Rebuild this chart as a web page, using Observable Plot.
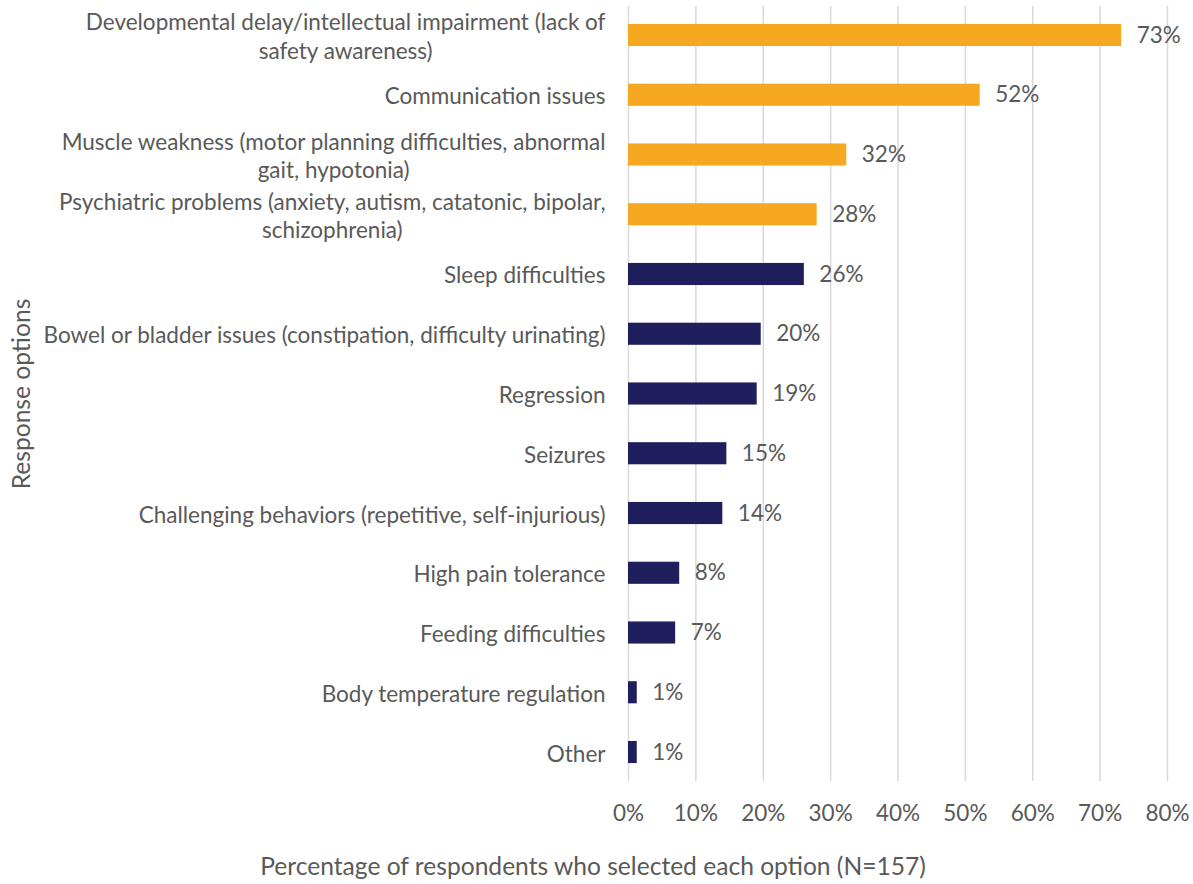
<!DOCTYPE html>
<html>
<head>
<meta charset="utf-8">
<script src="https://cdn.jsdelivr.net/npm/d3@7"></script>
<script src="https://cdn.jsdelivr.net/npm/@observablehq/plot@0.6"></script>
<style>
  html, body { margin: 0; padding: 0; background: #fff; }
  #chart svg { display: block; }
</style>
</head>
<body>
<div id="chart"></div>
<script>
// Response categories, top to bottom
const categories = [
  "Developmental delay/intellectual impairment (lack of safety awareness)",
  "Communication issues",
  "Muscle weakness (motor planning difficulties, abnormal gait, hypotonia)",
  "Psychiatric problems (anxiety, autism, catatonic, bipolar, schizophrenia)",
  "Sleep difficulties",
  "Bowel or bladder issues (constipation, difficulty urinating)",
  "Regression",
  "Seizures",
  "Challenging behaviors (repetitive, self-injurious)",
  "High pain tolerance",
  "Feeding difficulties",
  "Body temperature regulation",
  "Other"
];
// Displayed (wrapped) category labels
const displayLabels = [
  "Developmental delay/intellectual impairment (lack of\nsafety awareness)",
  "Communication issues",
  "Muscle weakness (motor planning difficulties, abnormal\ngait, hypotonia)",
  "Psychiatric problems (anxiety, autism, catatonic, bipolar,\nschizophrenia)",
  "Sleep difficulties",
  "Bowel or bladder issues (constipation, difficulty urinating)",
  "Regression",
  "Seizures",
  "Challenging behaviors (repetitive, self-injurious)",
  "High pain tolerance",
  "Feeding difficulties",
  "Body temperature regulation",
  "Other"
];
// Percentage of respondents (share, 0-1)
const values = [0.732, 0.522, 0.324, 0.280, 0.261, 0.197, 0.191, 0.146, 0.140, 0.076, 0.070, 0.013, 0.013];
// Highlighted (top) group
const highlighted = [true, true, true, true, false, false, false, false, false, false, false, false, false];
// Axis ticks
const xTicks = [0, 0.1, 0.2, 0.3, 0.4, 0.5, 0.6, 0.7, 0.8];
const xTitle = "Percentage of respondents who selected each option (N=157)";
const yTitle = "Response options";

const data = categories.map((c, i) => ({
  category: c,
  value: values[i],
  group: highlighted[i] ? "top" : "other"
}));
const labelOf = new Map(categories.map((c, i) => [c, displayLabels[i]]));

const FONT = "Lato, 'Open Sans', sans-serif";
const GREY = "#595959";
const FS = 22.5;
const TFS = 24.6;

const chart = Plot.plot({
  width: 1193,
  height: 884,
  marginLeft: 628,
  marginRight: 26,
  marginTop: 6,
  marginBottom: 103,
  style: { fontFamily: FONT, fontSize: FS + "px", color: GREY, background: "#fff" },
  x: { domain: [0, 0.8], ticks: xTicks },
  y: { domain: categories, paddingInner: 0.63, paddingOuter: 0.3, round: false },
  color: { domain: ["top", "other"], range: ["#F6A821", "#201F5E"] },
  marks: [
    Plot.gridX(xTicks, { stroke: "#D9D9D9", strokeOpacity: 1, strokeWidth: 1.5 }),
    Plot.barX(data, { x: "value", y: "category", fill: "group" }),
    Plot.text(data, {
      x: "value", y: "category",
      text: d => Math.round(d.value * 100) + "%",
      textAnchor: "start", dx: 15, fill: GREY, fontSize: FS
    }),
    Plot.axisX({
      ticks: xTicks, tickFormat: d => Math.round(d * 100) + "%",
      tickSize: 0, tickPadding: 24, fontSize: FS, label: null
    }),
    Plot.axisY({
      tickSize: 0, tickPadding: 23, fontSize: FS, label: null, lineHeight: 1.25,
      tickFormat: d => labelOf.get(d)
    }),
    Plot.text([xTitle], {
      frameAnchor: "bottom", textAnchor: "middle", dx: -305, dy: 93, fill: GREY, fontSize: TFS
    }),
    Plot.text([yTitle], {
      frameAnchor: "left", textAnchor: "middle", rotate: -90, dx: -606, fill: GREY, fontSize: TFS
    })
  ]
});

document.getElementById("chart").appendChild(chart);

// Center the lines of multi-line axis labels relative to each other (right-aligned block)
chart.querySelectorAll("g[aria-label='y-axis tick label'] text").forEach(t => {
  const spans = Array.from(t.querySelectorAll("tspan"));
  if (spans.length < 2) return;
  const widths = spans.map(s => s.getComputedTextLength());
  const maxW = Math.max(...widths);
  t.setAttribute("text-anchor", "middle");
  spans.forEach(s => s.setAttribute("x", -maxW / 2));
});
</script>
</body>
</html>
